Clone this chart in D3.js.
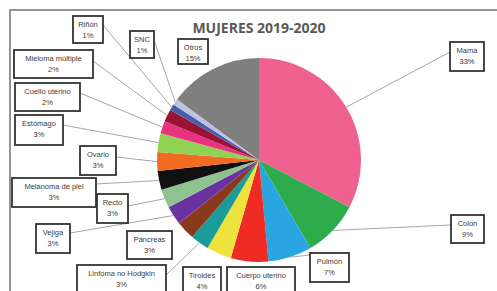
<!DOCTYPE html>
<html><head><meta charset="utf-8">
<script src="https://cdn.jsdelivr.net/npm/d3@7"></script>
<style>body{margin:0;background:#fff}svg{display:block}</style>
</head><body>
<svg id="c" width="497" height="291"></svg>
<script>
const categories = ["Mama","Colon","Pulmón","Cuerpo uterino","Tiroides","Linfoma no Hodgkin","Páncreas","Vejiga","Recto","Melanoma de piel","Ovario","Estómago","Cuello uterino","Mieloma múltiple","Riñón","SNC","Otros"];
const values = [33,9,7,6,4,3,3,3,3,3,3,3,2,2,1,1,15];
const colors = ["#EF6290","#2EAC4C","#29A6E0","#EE2B25","#EEE33C","#1C9C98","#8A3A1C","#6A32A0","#8EC28E","#111111","#F26B22","#92D252","#E8327E","#9C1234","#4A5EA8","#BCC2E2","#7F7F7F"];
const title = "MUJERES 2019-2020";

// label box layout (x, y, w, h) and leader anchor (ax, ay); line flag
const boxes = [
  {x:450,y:42,w:34,h:29,ax:450,ay:52,line:true},
  {x:451,y:215,w:33,h:28,ax:451,ay:225,line:true},
  {x:310,y:253,w:39,h:29,ax:310,ay:255,line:true},
  {x:227,y:267,w:68,h:30,ax:260,ay:267,line:false},
  {x:183,y:267,w:38,h:30,ax:202,ay:267,line:false},
  {x:77,y:265,w:89,h:30,ax:166,ay:275,line:true},
  {x:127,y:231,w:45,h:28,ax:172,ay:240,line:false},
  {x:36,y:224,w:34,h:29,ax:70,ay:233,line:true},
  {x:97,y:194,w:31,h:29,ax:128,ay:206,line:true},
  {x:12,y:178,w:84,h:29,ax:96,ay:184,line:true},
  {x:80,y:146,w:36,h:29,ax:116,ay:157,line:true},
  {x:15,y:115,w:48,h:30,ax:63,ay:125,line:true},
  {x:15,y:83,w:65,h:28,ax:80,ay:93,line:true},
  {x:14,y:50,w:79,h:28,ax:93,ay:61,line:true},
  {x:73,y:16,w:30,h:27,ax:103,ay:25,line:true},
  {x:130,y:31,w:24,h:27,ax:154,ay:40,line:true},
  {x:178,y:39,w:30,h:25,ax:208,ay:51,line:false}
];

const svg = d3.select("#c");
const cx = 259, cy = 160, R = 102;

svg.append("rect").attr("x",10).attr("y",10).attr("width",520).attr("height",320)
  .attr("fill","#fff").attr("stroke","#7a7a7a").attr("stroke-width",1.6);

svg.append("text").attr("x",259).attr("y",33).attr("text-anchor","middle")
  .attr("font-family","Open Sans, sans-serif").attr("font-weight",700).attr("font-size",14)
  .attr("fill","#595959").text(title);

const pie = d3.pie().sort(null).value(d => d)(values);
const arc = d3.arc().innerRadius(0).outerRadius(R);
const g = svg.append("g").attr("transform",`translate(${cx},${cy})`);
g.selectAll("path").data(pie).join("path").attr("d",arc).attr("fill",(d,i)=>colors[i]);

// leader lines
pie.forEach((d,i)=>{
  const b = boxes[i];
  if(!b.line) return;
  const a = (d.startAngle + d.endAngle)/2;
  const px = cx + R*Math.sin(a), py = cy - R*Math.cos(a);
  svg.append("line").attr("x1",b.ax).attr("y1",b.ay).attr("x2",px).attr("y2",py)
    .attr("stroke","#a6a6a6").attr("stroke-width",1);
});

// label boxes
categories.forEach((c,i)=>{
  const b = boxes[i];
  svg.append("rect").attr("x",b.x).attr("y",b.y).attr("width",b.w).attr("height",b.h)
    .attr("fill","#fff").attr("stroke","#333").attr("stroke-width",1.8);
  const t = svg.append("text").attr("text-anchor","middle")
    .attr("font-family","Liberation Sans, Arial, sans-serif").attr("font-size",7.5).attr("fill","#3c3c3c");
  t.append("tspan").attr("x",b.x+b.w/2).attr("y",b.y+11).text(c);
  t.append("tspan").attr("x",b.x+b.w/2).attr("y",b.y+22).text(values[i]+"%");
});
</script>
</body></html>
